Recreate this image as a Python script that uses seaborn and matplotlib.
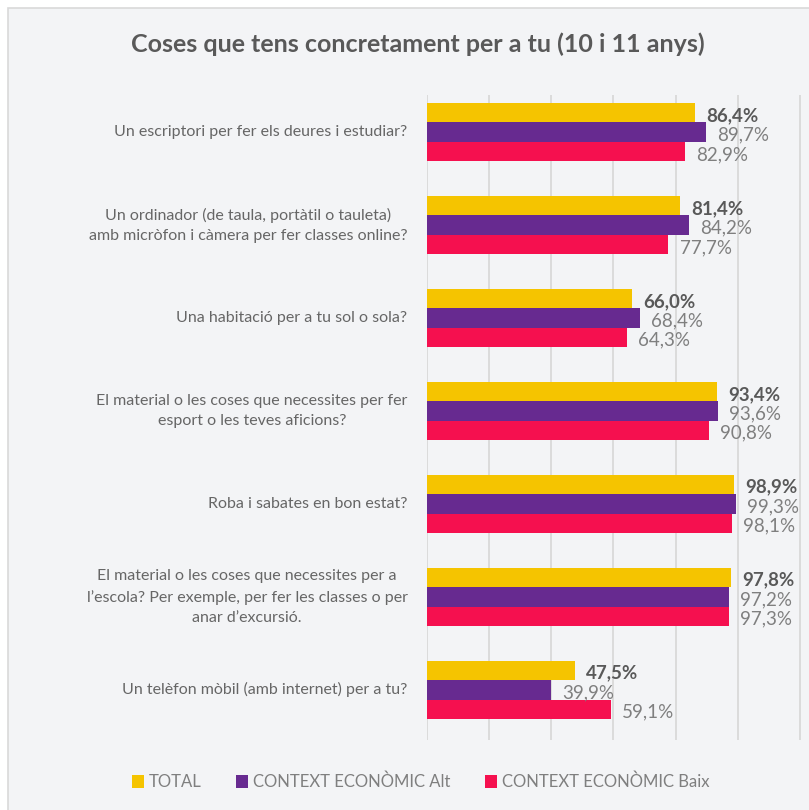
import matplotlib
matplotlib.use("Agg")
import matplotlib.pyplot as plt
import seaborn as sns
import pandas as pd
from matplotlib.patches import Rectangle, Patch

categories = [
    "Un escriptori per fer els deures i estudiar?",
    "Un ordinador (de taula, portàtil o tauleta)\namb micròfon i càmera per fer classes online?",
    "Una habitació per a tu sol o sola?",
    "El material o les coses que necessites per fer\nesport o les teves aficions?",
    "Roba i sabates en bon estat?",
    "El material o les coses que necessites per a\nl’escola? Per exemple, per fer les classes o per\nanar d’excursió.",
    "Un telèfon mòbil (amb internet) per a tu?",
]
series_names = ["TOTAL", "CONTEXT ECONÒMIC Alt", "CONTEXT ECONÒMIC Baix"]
total = [86.4, 81.4, 66.0, 93.4, 98.9, 97.8, 47.5]
alt = [89.7, 84.2, 68.4, 93.6, 99.3, 97.2, 39.9]
baix = [82.9, 77.7, 64.3, 90.8, 98.1, 97.3, 59.1]
colors = ["#F5C400", "#672A90", "#F5104F"]

rows = []
for name, vals in zip(series_names, [total, alt, baix]):
    for c, v in zip(categories, vals):
        rows.append({"cat": c, "serie": name, "val": v})
df = pd.DataFrame(rows)

sns.set_theme(style="white")
plt.rcParams["font.family"] = ["Lato", "DejaVu Sans"]

fig = plt.figure(figsize=(8.09, 8.10), dpi=100)
fig.patch.set_facecolor("white")
bg = Rectangle((8 / 809, -0.01), 1.0, 1 - 8 / 810 + 0.01, transform=fig.transFigure,
               facecolor="#F3F4F6", edgecolor="#D9D9D9", linewidth=1.2, zorder=-10)
fig.patches.append(bg)

ax = fig.add_axes([427 / 809, 70 / 810, 376 / 809, (740 - 95) / 810])
ax.set_facecolor("none")
ax.set_zorder(1)

sns.barplot(data=df, y="cat", x="val", hue="serie", orient="h",
            palette=colors, width=0.63, ax=ax, legend=False,
            saturation=1, edgecolor="none", zorder=3)

ax.set_xlim(0, 121)
ax.set_ylim(6.54, -0.40)
ax.set_xticks([0, 20, 40, 60, 80, 100, 120])
ax.set_xticklabels([])
ax.grid(axis="x", color="#D9D9D9", linewidth=1.3, zorder=0)
ax.set_axisbelow(True)
ax.tick_params(axis="both", length=0)
for s in ax.spines.values():
    s.set_visible(False)
ax.set_xlabel("")
ax.set_ylabel("")

# category labels (drawn as annotations so multi-line spacing can be controlled)
ax.set_yticks(range(len(categories)))
ax.set_yticklabels([])
for i, cat in enumerate(ax.get_yticks()):
    ax.annotate(categories[i], xy=(0, cat), xycoords=ax.get_yaxis_transform(),
                xytext=(-14, 0), textcoords="offset points",
                ha="right", va="center", multialignment="center",
                linespacing=1.55, fontsize=11.5, color="#666666")

for i, cont in enumerate(ax.containers):
    labels = [f"{b.get_width():.1f}%".replace(".", ",") for b in cont]
    texts = ax.bar_label(cont, labels=labels, padding=8, fontsize=13.5,
                         color="#595959" if i == 0 else "#7F7F7F",
                         fontweight="bold" if i == 0 else "normal")
    for t in texts:
        t.set_va("center")
        x, y = t.xyann
        t.xyann = (x, y - 2)

fig.text(0.516, 1 - 44 / 810, "Coses que tens concretament per a tu (10 i 11 anys)",
         ha="center", va="center", fontsize=18, fontweight="bold", color="#595959")

handles = [Patch(facecolor=c, edgecolor="none") for c in colors]
fig.legend(handles, series_names, loc="center", bbox_to_anchor=(0.52, 1 - 782 / 810),
           ncol=3, frameon=False, fontsize=12, labelcolor="#7F7F7F",
           handlelength=0.7, handleheight=0.8, handletextpad=0.3, columnspacing=2.1)

fig.savefig("out.png", dpi=100)
